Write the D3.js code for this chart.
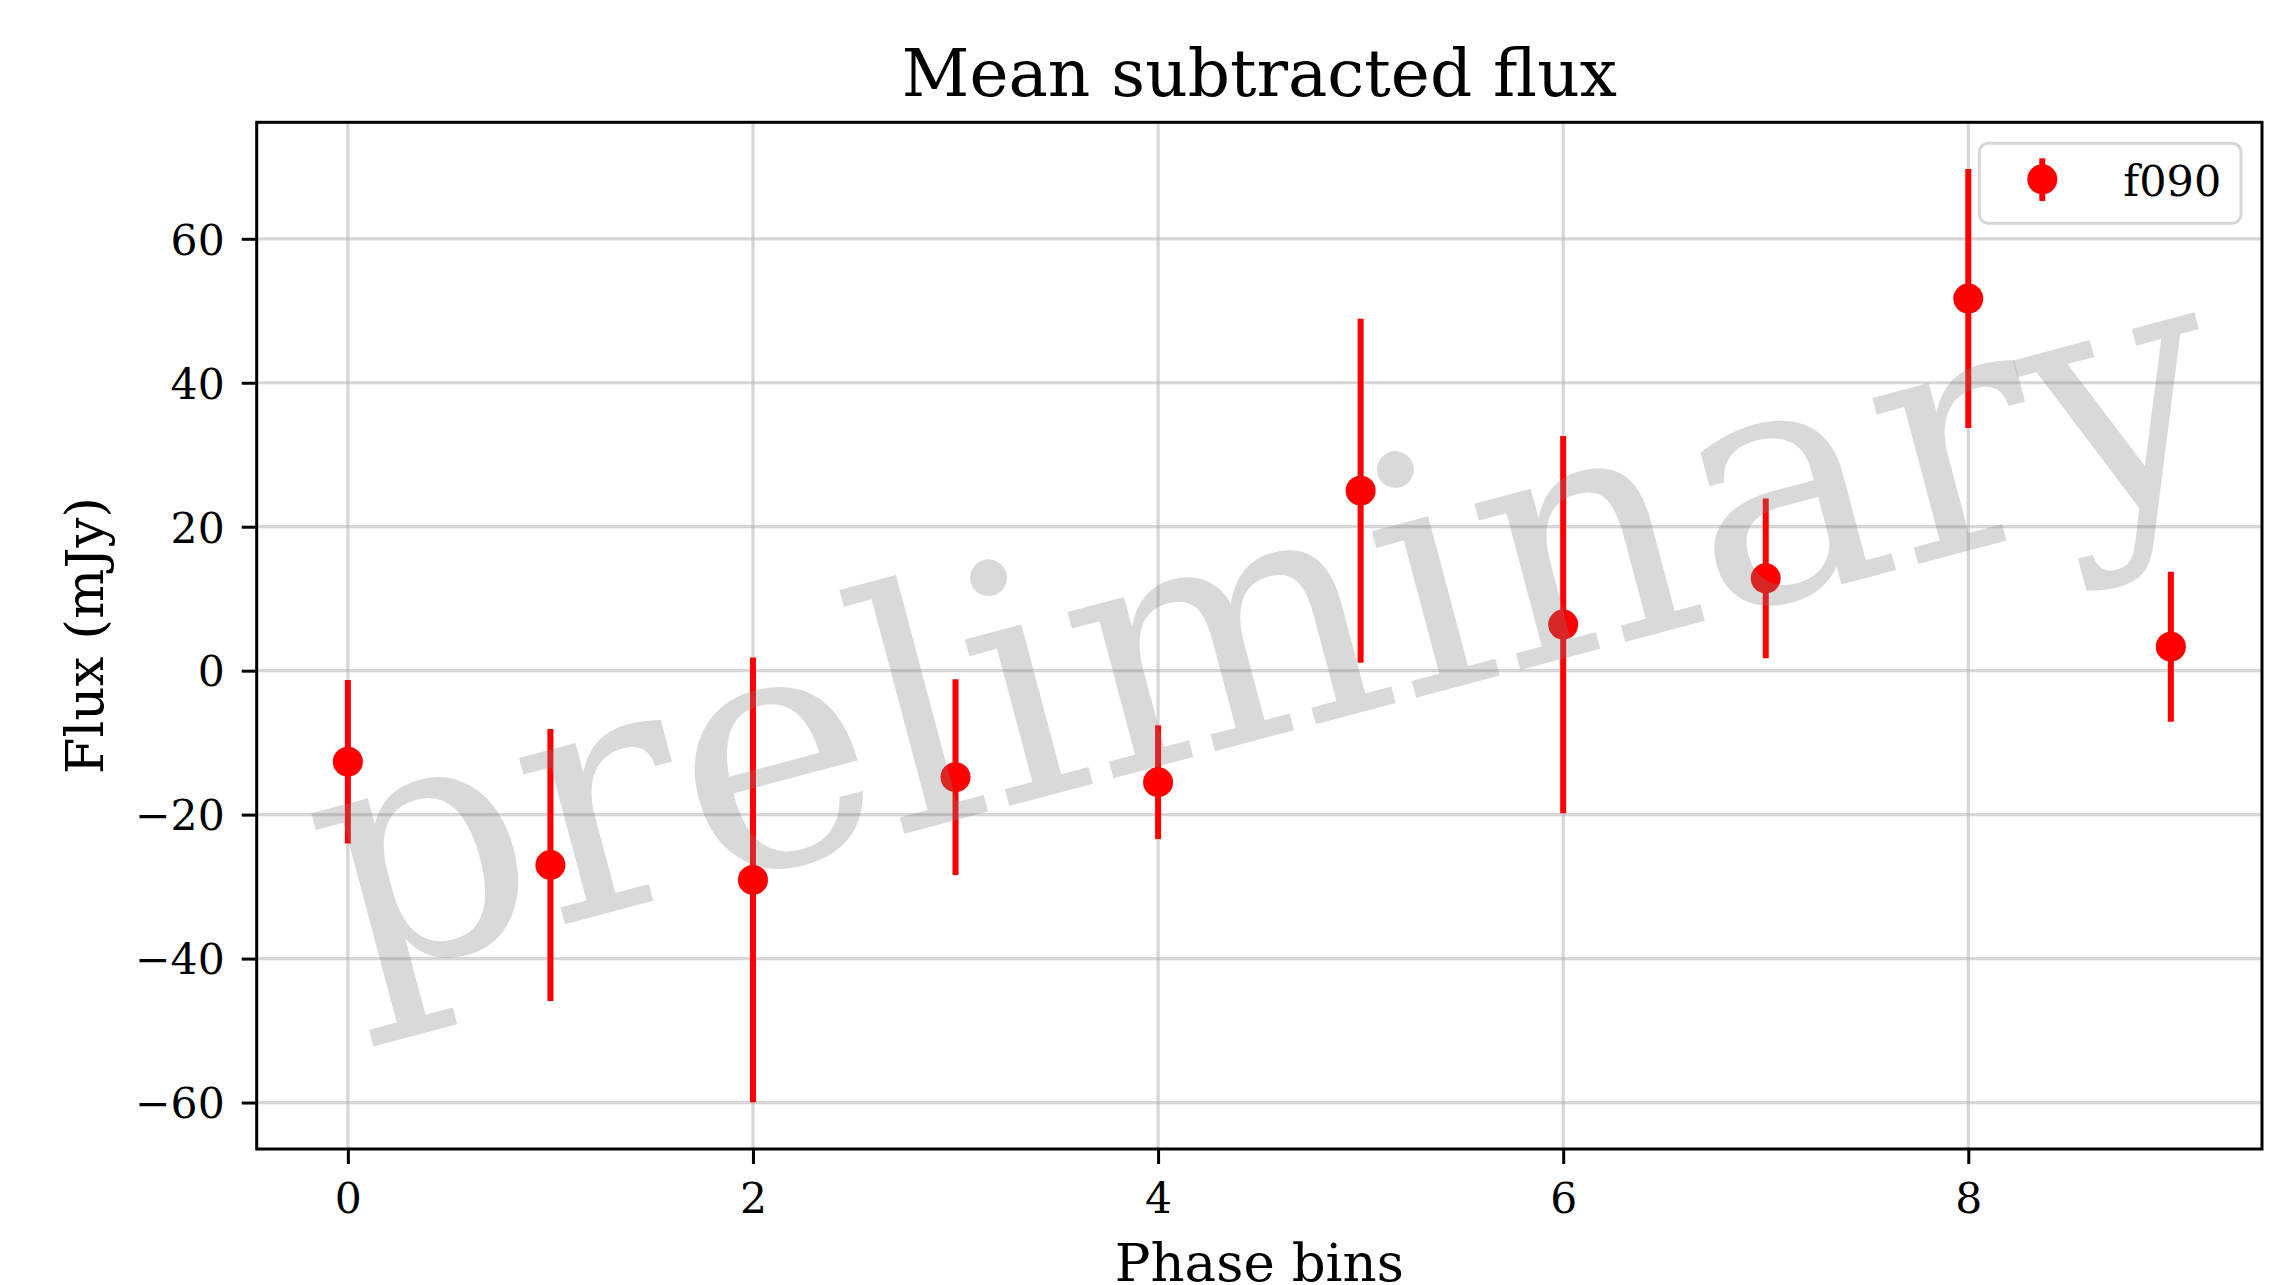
<!DOCTYPE html>
<html>
<head>
<meta charset="utf-8">
<script src="https://cdn.jsdelivr.net/npm/d3@7"></script>
<style>
  html, body { margin: 0; padding: 0; background: #fff; }
  svg { display: block; font-family: "DejaVu Serif", serif; }
</style>
</head>
<body>
<svg id="chart"></svg>
<script>
const width = 2278;
const height = 1285;
const margin = { top: 122.3, right: width - 2262, bottom: height - 1149, left: 256.7 };

// data
const phaseBins = [0, 1, 2, 3, 4, 5, 6, 7, 8, 9];
const fluxMean = [-12.65, -27.0, -29.07, -14.8, -15.5, 25.0, 6.4, 12.83, 51.7, 3.33];
const fluxErr = [11.35, 18.9, 30.9, 13.6, 7.9, 23.9, 26.2, 11.1, 18.0, 10.42];
const xTicks = [0, 2, 4, 6, 8];
const yTicks = [-60, -40, -20, 0, 20, 40, 60];
const seriesName = "f090";

const data = phaseBins.map((b, i) => ({ bin: b, flux: fluxMean[i], err: fluxErr[i] }));

const svg = d3.select("#chart")
  .attr("width", width)
  .attr("height", height)
  .attr("viewBox", [0, 0, width, height]);

// matplotlib style 5% margins
const xPad = (d3.max(phaseBins) - d3.min(phaseBins)) * 0.05;
const x = d3.scaleLinear()
  .domain([d3.min(phaseBins) - xPad, d3.max(phaseBins) + xPad])
  .range([margin.left, width - margin.right]);

const yLo = d3.min(data, d => d.flux - d.err);
const yHi = d3.max(data, d => d.flux + d.err);
const yPad = (yHi - yLo) * 0.05;
const y = d3.scaleLinear()
  .domain([yLo - yPad, yHi + yPad])
  .range([height - margin.bottom, margin.top]);

const minus = d => d < 0 ? "\u2212" + Math.abs(d) : String(d);

// grid
const grid = svg.append("g")
  .attr("stroke", "#b0b0b0")
  .attr("stroke-opacity", 0.5)
  .attr("stroke-width", 3.2);

grid.selectAll(".gx")
  .data(xTicks)
  .join("line")
  .attr("x1", d => x(d)).attr("x2", d => x(d))
  .attr("y1", margin.top).attr("y2", height - margin.bottom);

grid.selectAll(".gy")
  .data(yTicks)
  .join("line")
  .attr("x1", margin.left).attr("x2", width - margin.right)
  .attr("y1", d => y(d)).attr("y2", d => y(d));

// error bars and points
svg.append("g")
  .selectAll("line")
  .data(data)
  .join("line")
  .attr("x1", d => x(d.bin)).attr("x2", d => x(d.bin))
  .attr("y1", d => y(d.flux - d.err))
  .attr("y2", d => y(d.flux + d.err))
  .attr("stroke", "red")
  .attr("stroke-width", 6);

svg.append("g")
  .selectAll("circle")
  .data(data)
  .join("circle")
  .attr("cx", d => x(d.bin))
  .attr("cy", d => y(d.flux))
  .attr("r", 15)
  .attr("fill", "red");

// watermark
svg.append("g")
  .attr("transform", `translate(${(margin.left + width - margin.right) / 2 + 9},${(margin.top + height - margin.bottom) / 2 + 2}) rotate(-14.9)`)
  .append("text")
  .attr("text-anchor", "middle")
  .attr("y", 96)
  .attr("font-size", 332)
  .attr("fill", "gray")
  .attr("fill-opacity", 0.3)
  .text("preliminary");

// axes
const xAxis = svg.append("g")
  .attr("transform", `translate(0,${height - margin.bottom})`)
  .call(d3.axisBottom(x).tickValues(xTicks).tickSize(15).tickPadding(19).tickFormat(minus));

const yAxis = svg.append("g")
  .attr("transform", `translate(${margin.left},0)`)
  .call(d3.axisLeft(y).tickValues(yTicks).tickSize(15).tickPadding(17).tickFormat(minus));

[xAxis, yAxis].forEach(g => {
  g.select(".domain").remove();
  g.selectAll(".tick line").attr("stroke", "#000").attr("stroke-width", 3);
  g.selectAll(".tick text")
    .attr("fill", "#000")
    .attr("font-family", "DejaVu Serif")
    .attr("font-size", 42.5);
});
yAxis.selectAll(".tick text").attr("dy", "0.36em");

svg.append("rect")
  .attr("x", margin.left)
  .attr("y", margin.top)
  .attr("width", width - margin.left - margin.right)
  .attr("height", height - margin.top - margin.bottom)
  .attr("fill", "none")
  .attr("stroke", "#000")
  .attr("stroke-width", 3);

// titles
svg.append("text")
  .attr("x", (margin.left + width - margin.right) / 2)
  .attr("y", 95.7)
  .attr("text-anchor", "middle")
  .attr("font-size", 66)
  .text("Mean subtracted flux");

svg.append("text")
  .attr("x", (margin.left + width - margin.right) / 2)
  .attr("y", 1281)
  .attr("text-anchor", "middle")
  .attr("font-size", 53)
  .text("Phase bins");

svg.append("text")
  .attr("transform", `translate(103.3,${(margin.top + height - margin.bottom) / 2}) rotate(-90)`)
  .attr("text-anchor", "middle")
  .attr("font-size", 53)
  .text("Flux (mJy)");

// legend
const legend = svg.append("g").attr("transform", "translate(1979.3,143.3)");
legend.append("rect")
  .attr("width", 261.7)
  .attr("height", 80)
  .attr("rx", 8.7)
  .attr("fill", "#fff")
  .attr("fill-opacity", 0.8)
  .attr("stroke", "#cccccc")
  .attr("stroke-opacity", 0.8)
  .attr("stroke-width", 3);
legend.append("line")
  .attr("x1", 63).attr("x2", 63)
  .attr("y1", 15).attr("y2", 57.7)
  .attr("stroke", "red")
  .attr("stroke-width", 6);
legend.append("circle")
  .attr("cx", 63).attr("cy", 36)
  .attr("r", 15)
  .attr("fill", "red");
legend.append("text")
  .attr("x", 144)
  .attr("y", 52.4)
  .attr("font-size", 43)
  .text(seriesName);
</script>
</body>
</html>
